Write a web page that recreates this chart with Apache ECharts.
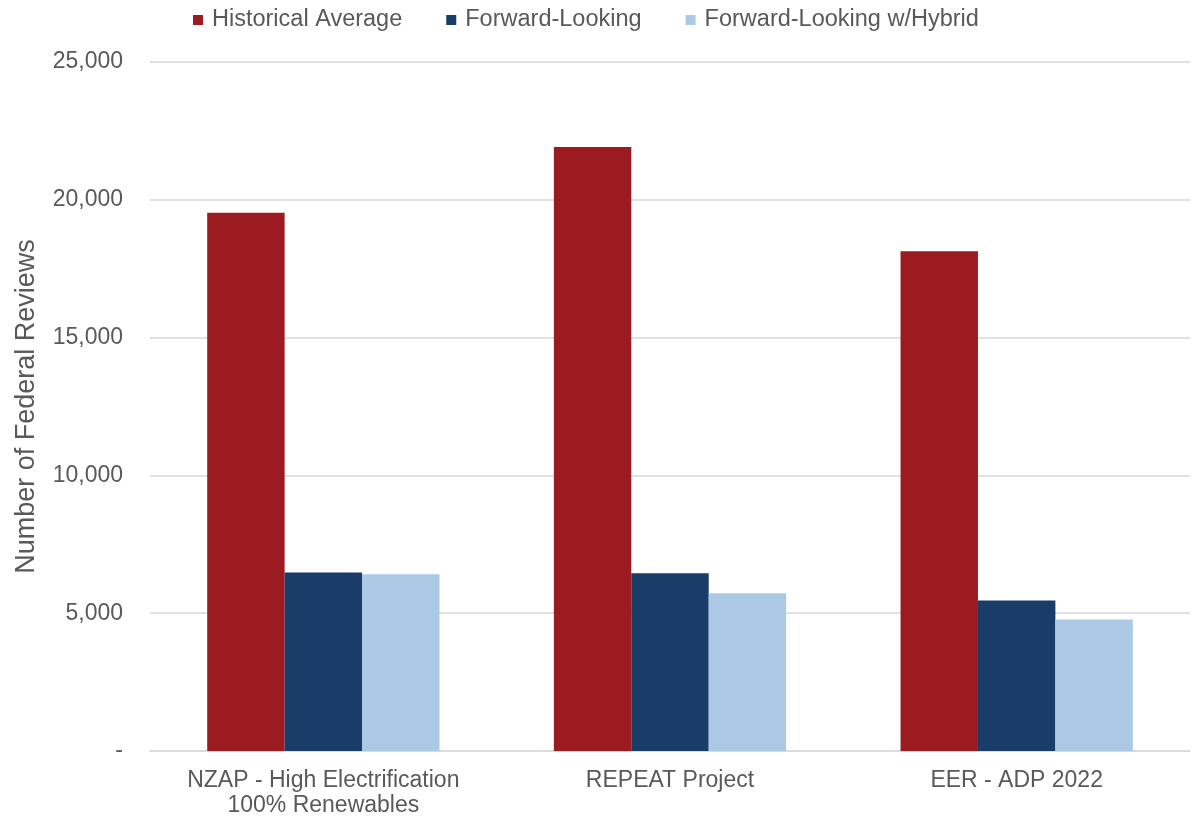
<!DOCTYPE html>
<html>
<head>
<meta charset="utf-8">
<script src="https://cdn.jsdelivr.net/npm/echarts@6/dist/echarts.min.js"></script>
<style>
html,body{margin:0;padding:0;background:#fff;}
#chart{width:1192px;height:818px;}
</style>
</head>
<body>
<div id="chart"></div>
<script>
const categories = ["NZAP - High Electrification\n100% Renewables", "REPEAT Project", "EER - ADP 2022"];
const seriesNames = ["Historical Average", "Forward-Looking", "Forward-Looking w/Hybrid"];
const historicalAverage = [19530, 21920, 18130];
const forwardLooking = [6480, 6450, 5460];
const forwardLookingHybrid = [6410, 5720, 4770];
const yTicks = { min: 0, max: 25000, interval: 5000 };
const colors = ["#9B1B20", "#1A3C68", "#ABC8E4"];

const chart = echarts.init(document.getElementById('chart'));
const font = '"Liberation Sans", Arial, sans-serif';
const textColor = '#595959';
const dataSets = [historicalAverage, forwardLooking, forwardLookingHybrid];

chart.setOption({
  animation: false,
  textStyle: { fontFamily: font },
  legend: {
    top: 3,
    left: 188,
    itemWidth: 10,
    itemHeight: 10,
    itemGap: 44,
    icon: 'rect',
    textStyle: { fontFamily: font, fontSize: 23.5, color: textColor, padding: [0, 0, 0, 4] },
    data: seriesNames
  },
  grid: { left: 150, right: 2, top: 62, bottom: 64.5, containLabel: false },
  xAxis: {
    type: 'category',
    data: categories,
    axisLine: { show: true, lineStyle: { color: '#D9D9D9', width: 1.5 } },
    axisTick: { show: false },
    axisLabel: { fontFamily: font, fontSize: 23, color: textColor, margin: 17, lineHeight: 25, interval: 0 }
  },
  yAxis: {
    type: 'value',
    min: yTicks.min,
    max: yTicks.max,
    interval: yTicks.interval,
    name: 'Number of Federal Reviews',
    nameLocation: 'middle',
    nameGap: 110,
    nameTextStyle: { fontFamily: font, fontSize: 27, color: textColor },
    axisLine: { show: false },
    axisTick: { show: false },
    splitLine: { lineStyle: { color: '#D9D9D9', width: 1.5 } },
    axisLabel: {
      fontFamily: font, fontSize: 23, color: textColor, margin: 27,
      formatter: v => v === 0 ? '-' : v.toLocaleString('en-US')
    }
  },
  series: seriesNames.map((n, i) => ({
    name: n,
    type: 'bar',
    data: dataSets[i],
    barGap: '0%',
    barCategoryGap: '33%',
    itemStyle: { color: colors[i] }
  }))
});
</script>
</body>
</html>
